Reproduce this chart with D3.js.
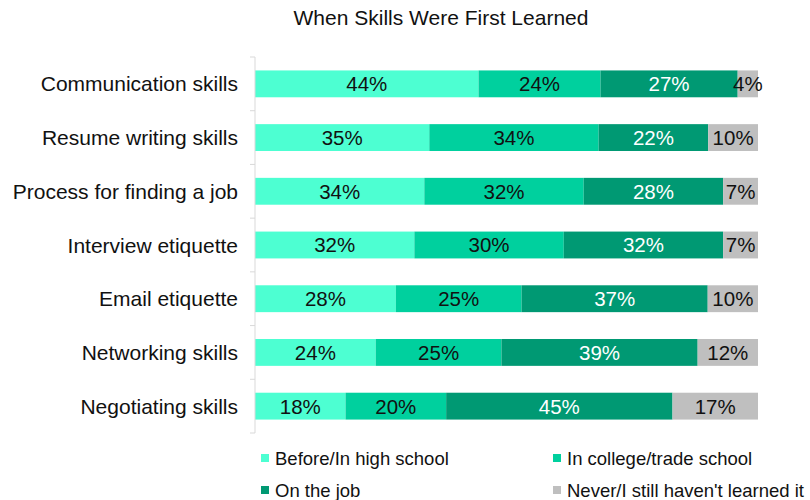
<!DOCTYPE html>
<html><head><meta charset="utf-8">
<script src="https://cdn.jsdelivr.net/npm/d3@7"></script>
<style>body{margin:0;background:#fff}svg{font-family:"Liberation Sans",Arial,sans-serif}</style>
</head><body><svg id="c" width="810" height="500"></svg>
<script>
const title = "When Skills Were First Learned";
const categories = ["Communication skills","Resume writing skills","Process for finding a job","Interview etiquette","Email etiquette","Networking skills","Negotiating skills"];
const seriesNames = ["Before/In high school","In college/trade school","On the job","Never/I still haven't learned it"];
const beforeHS = [44,35,34,32,28,24,18];
const college = [24,34,32,30,25,25,20];
const onJob = [27,22,28,32,37,39,45];
const never = [4,10,7,7,10,12,17];
const colors = ["#4dffd2","#00d09e","#009973","#bfbfbf"];
const textColors = ["#111","#111","#fff","#111"];

const series = [beforeHS, college, onJob, never];
const rows = categories.map((c,i)=>{const o={cat:c}; seriesNames.forEach((s,j)=>o[s]=series[j][i]); return o;});
const stacked = d3.stack().keys(seriesNames).offset(d3.stackOffsetExpand)(rows);

const svg = d3.select("#c");
const x = d3.scaleLinear().domain([0,1]).range([255,758]);
const y = d3.scaleBand().domain(categories).range([57,433]).paddingInner(0.5).paddingOuter(0.25);

svg.append("text").attr("x",441).attr("y",25).attr("text-anchor","middle").attr("font-size",21).attr("fill","#111").text(title);

stacked.forEach((s,j)=>{
  const g = svg.append("g");
  g.selectAll("rect").data(s).join("rect")
    .attr("x",d=>x(d[0])).attr("width",d=>x(d[1])-x(d[0]))
    .attr("y",d=>y(d.data.cat)).attr("height",y.bandwidth())
    .attr("fill",colors[j]);
  g.selectAll("text").data(s).join("text")
    .attr("x",d=>(x(d[0])+x(d[1]))/2).attr("y",d=>y(d.data.cat)+y.bandwidth()/2)
    .attr("dy","0.36em").attr("text-anchor","middle").attr("font-size",20.5)
    .attr("fill",textColors[j]).text(d=>d.data[seriesNames[j]]+"%");
});

// axis
const ax = svg.append("g");
ax.append("line").attr("x1",255).attr("x2",255).attr("y1",57).attr("y2",433).attr("stroke","#d9d9d9");
const bounds = d3.range(categories.length+1).map(i=>57+i*y.step());
ax.selectAll("line.t").data(bounds).join("line").attr("class","t")
  .attr("x1",250).attr("x2",255).attr("y1",d=>d).attr("y2",d=>d).attr("stroke","#d9d9d9");
svg.append("g").selectAll("text").data(categories).join("text")
  .attr("x",238).attr("y",d=>y(d)+y.bandwidth()/2).attr("dy","0.36em")
  .attr("text-anchor","end").attr("font-size",21).attr("fill","#111").text(d=>d);

// legend
const legPos = [[261,458],[553,458],[261,490],[553,490]];
const lg = svg.append("g");
seriesNames.forEach((n,j)=>{
  const [lx,ly]=legPos[j];
  lg.append("rect").attr("x",lx).attr("y",ly-4).attr("width",8).attr("height",8).attr("fill",colors[j]);
  lg.append("text").attr("x",lx+14).attr("y",ly).attr("dy","0.36em").attr("font-size",18.5).attr("fill","#111").text(n);
});
</script></body></html>
